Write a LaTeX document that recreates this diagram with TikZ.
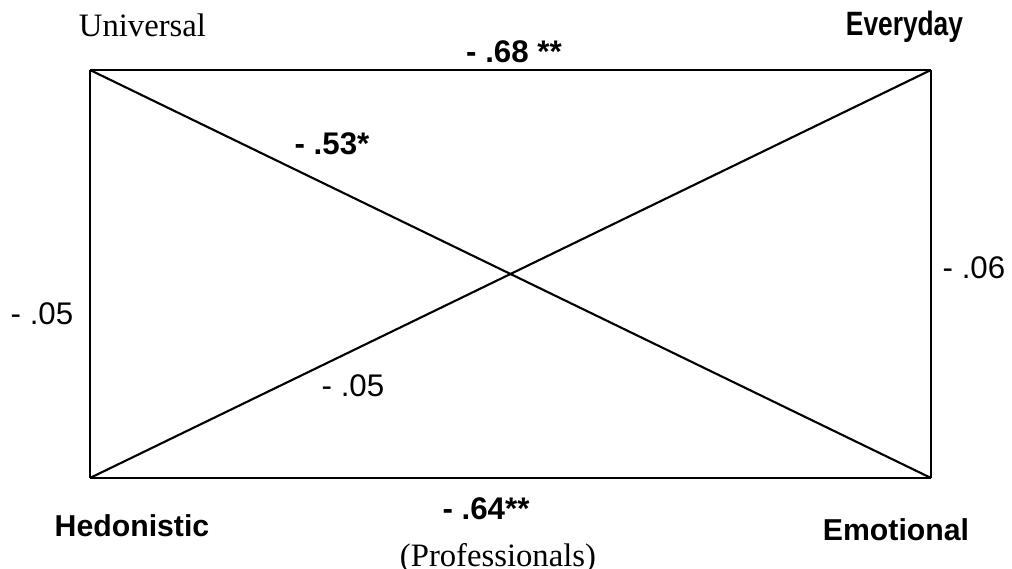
\documentclass[tikz,border=0pt]{standalone}
\usepackage{fontspec}
\setmainfont{Liberation Serif}
\setsansfont{Liberation Sans}
\usepackage{graphicx}
\usepackage{tikz}
\usetikzlibrary{positioning,calc}

\begin{document}
\begin{tikzpicture}[
    corner/.style={inner sep=0pt, anchor=base, font=\sffamily\fontsize{8.6}{10}\selectfont\bfseries},
    serifname/.style={inner sep=0pt, anchor=base, font=\rmfamily\fontsize{9.3}{11}\selectfont},
    coeff/.style={inner sep=0pt, anchor=base, font=\sffamily\fontsize{8.9}{10}\selectfont},
    strong/.style={coeff, font=\sffamily\fontsize{8.9}{10}\selectfont\bfseries},
    link/.style={line width=0.6pt}
]
    \useasboundingbox (0,0) rectangle (10.12,5.69);

    % corners of the square
    \coordinate (univ) at (0.90, 4.99);
    \coordinate (every) at (9.31, 4.99);
    \coordinate (hedon) at (0.90, 0.91);
    \coordinate (emot) at (9.31, 0.91);

    % names at the corners
    \node[serifname] (l_univ)  at (1.425, 5.32) {Universal};
    \node[corner]    (l_every) at (9.045, 5.33) {\fontsize{9.6}{10}\selectfont\scalebox{0.78}[1]{Everyday}};
    \node[corner]    (l_hedon) at (1.32, 0.32) {Hedonistic};
    \node[corner]    (l_emot)  at (8.96, 0.28) {Emotional};
    \node[serifname] (l_group) at (4.98, 0.02) {(Professionals)};

    % sides and diagonals
    \draw[link] (univ) -- (every);
    \draw[link] (every) -- (emot);
    \draw[link] (emot) -- (hedon);
    \draw[link] (hedon) -- (univ);
    \draw[link] (univ) -- (emot);
    \draw[link] (hedon) -- (every);

    % correlations
    \node[strong] (c_top)   at (5.14, 5.06) {- .68 **};
    \node[strong] (c_diag1) at (3.32, 4.14) {- .53*};
    \node[coeff]  (c_right) at (9.74, 2.90) {- .06};
    \node[coeff]  (c_left)  at (0.42, 2.44) {- .05};
    \node[coeff]  (c_diag2) at (3.53, 1.72) {- .05};
    \node[strong] (c_bot)   at (4.86, 0.49) {- .64**};

\end{tikzpicture}
\end{document}
